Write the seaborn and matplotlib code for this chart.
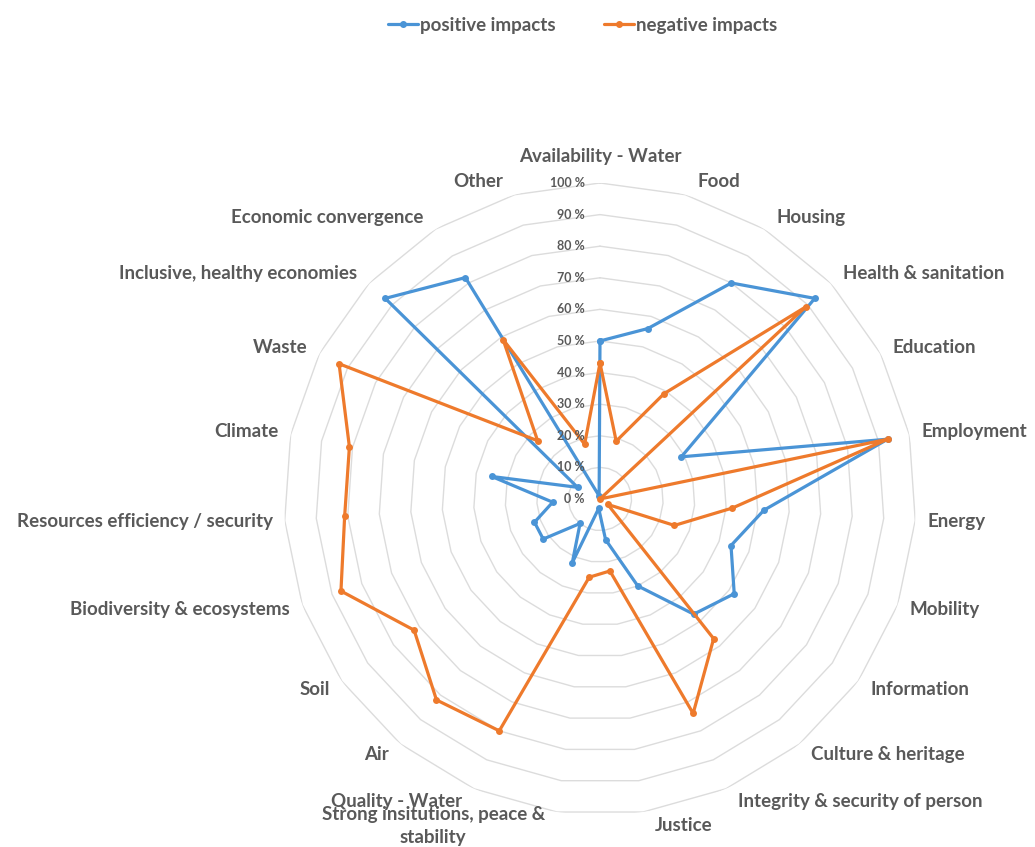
import numpy as np
import pandas as pd
import matplotlib
matplotlib.use("Agg")
import matplotlib.pyplot as plt
from matplotlib.lines import Line2D
import seaborn as sns

# categories clockwise from the top
categories = [
    "Availability - Water", "Food", "Housing", "Health & sanitation", "Education",
    "Employment", "Energy", "Mobility", "Information", "Culture & heritage",
    "Integrity & security of person", "Justice",
    "Strong insitutions, peace &\nstability", "Quality - Water", "Air", "Soil",
    "Biodiversity & ecosystems", "Resources efficiency / security", "Climate",
    "Waste", "Inclusive, healthy economies", "Economic convergence", "Other",
]
# share of answers, in percent
positive = [50, 56, 80, 93, 29, 93, 52, 44, 52, 47, 30, 13, 3, 22, 10, 22, 22, 15, 35, 8, 93, 82, 1]
negative = [43, 19, 39, 89, 0, 93, 42, 25, 3, 57, 74, 23, 25, 80, 82, 72, 87, 81, 81, 93, 27, 59, 18]
series_names = ["positive impacts", "negative impacts"]
levels = [0, 10, 20, 30, 40, 50, 60, 70, 80, 90, 100]

colors = {"positive impacts": "#4a94d6", "negative impacts": "#ee7a2c"}
text_color = "#595959"

sns.set_theme(style="white")
plt.rcParams["font.family"] = ["Lato", "DejaVu Sans"]

n = len(categories)
angles = np.arange(n) * 2 * np.pi / n

# long table, closing each loop back at the first category
rows = []
for name, vals in zip(series_names, [positive, negative]):
    for k in range(n + 1):
        theta = angles[k] if k < n else 2 * np.pi
        rows.append({"series": name, "theta": theta, "value": vals[k % n]})
df = pd.DataFrame(rows)

fig = plt.figure(figsize=(10.35, 8.47), dpi=100)
ax = fig.add_axes([0.2744, 0.0378, 0.6106, 0.7462], projection="polar")
ax.set_theta_zero_location("N")
ax.set_theta_direction(-1)
ax.patch.set_alpha(0)

# polygon grid like the Excel radar
ring = np.append(angles, 2 * np.pi)
for lv in levels[1:]:
    ax.plot(ring, [lv] * (n + 1), color="#dcdcdc", lw=1.0, zorder=1)

sns.lineplot(data=df, x="theta", y="value", hue="series", palette=colors,
             sort=False, estimator=None, marker="o", markersize=5,
             markeredgewidth=0, linewidth=2.3, legend=False, ax=ax, zorder=3)

ax.set_ylim(0, 100)
ax.set_xticks([])
ax.set_yticks([])
ax.grid(False)
ax.spines["polar"].set_visible(False)
ax.set_xlabel("")
ax.set_ylabel("")

# radial axis labels along the top spoke
for lv in levels:
    ax.annotate(f"{lv} %", xy=(0, lv), xytext=(-15, 0), textcoords="offset pixels",
                ha="right", va="center", fontsize=9, fontweight="bold",
                color=text_color, annotation_clip=False)

# category labels just outside the outer ring
for ang, name in zip(angles, categories):
    s, c = np.sin(ang), np.cos(ang)
    if abs(s) < 0.05:
        ha, va, dx, dy = "center", "bottom", 0, 18
    elif s > 0:
        ha, va, dx, dy = "left", "center", 12, 14 * c
    else:
        ha, va, dx, dy = "right", "center", -12, 14 * c
    ax.annotate(name, xy=(ang, 100), xytext=(dx, dy), textcoords="offset pixels",
                ha=ha, va=va, multialignment="center", fontsize=13.5,
                fontweight="bold", color=text_color, annotation_clip=False,
                linespacing=1.4)

handles = [Line2D([], [], color=colors[s], marker="o", markersize=4, lw=2.3) for s in series_names]
leg = fig.legend(handles, series_names, loc="center", bbox_to_anchor=(0.563, 0.970),
                 ncol=2, frameon=False, handlelength=1.6, handletextpad=0.1,
                 columnspacing=2.6, prop={"size": 13.5, "weight": "bold"})
for t in leg.get_texts():
    t.set_color(text_color)

fig.savefig("out.png", dpi=100)
